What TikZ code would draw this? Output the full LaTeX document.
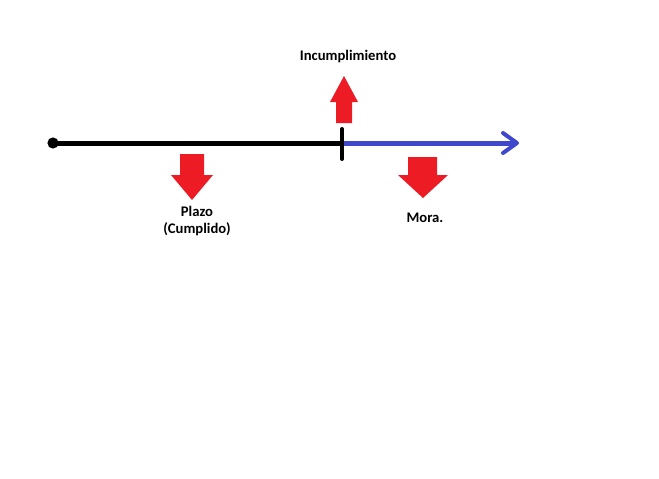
\documentclass[tikz,border=0pt]{standalone}
\usepackage{fontspec}
\setmainfont{Carlito}
\usetikzlibrary{arrows.meta,positioning}
\definecolor{rojo}{RGB}{237,28,36}
\definecolor{azul}{RGB}{63,72,204}
\tikzset{
    etiqueta/.style={font=\fontsize{11}{13}\selectfont\bfseries,align=center,inner sep=0pt},
    flecharoja/.style={fill=rojo,draw=none},
    linea/.style={line width=3.75pt}
}
\begin{document}
\begin{tikzpicture}[x=0.75pt,y=-0.75pt]
    \useasboundingbox (0,0) rectangle (659,478);
    % puntos de la linea de tiempo
    \coordinate (inicio) at (53,143);
    \coordinate (corte) at (342,143);
    \coordinate (fin) at (519,143);
    \draw[linea,black] (inicio) -- (corte);
    \draw[linea,azul,-{Straight Barb[length=10.5pt,width=15pt,line width=3pt,round]}] (corte) -- (fin);
    \fill (inicio) circle (4.2pt);
    \draw[line width=3pt,line cap=round] (342,129) -- (342,159);
    % flechas rojas
    \fill[flecharoja] (336,123) -- (336,102) -- (330,102) -- (344,76) -- (358,102) -- (352,102) -- (352,123) -- cycle;
    \fill[flecharoja] (180,154) -- (180,175) -- (171,175) -- (192,200) -- (213,175) -- (204,175) -- (204,154) -- cycle;
    \fill[flecharoja] (408,157) -- (408,175) -- (398,175) -- (423,198) -- (448,175) -- (437,175) -- (437,157) -- cycle;
    % textos
    \node[etiqueta] (incumplimiento) at (348,57) {Incumplimiento};
    \node[etiqueta] (plazo) at (197,221) {Plazo\\(Cumplido)};
    \node[etiqueta] (mora) at (425,218) {Mora.};
\end{tikzpicture}
\end{document}
